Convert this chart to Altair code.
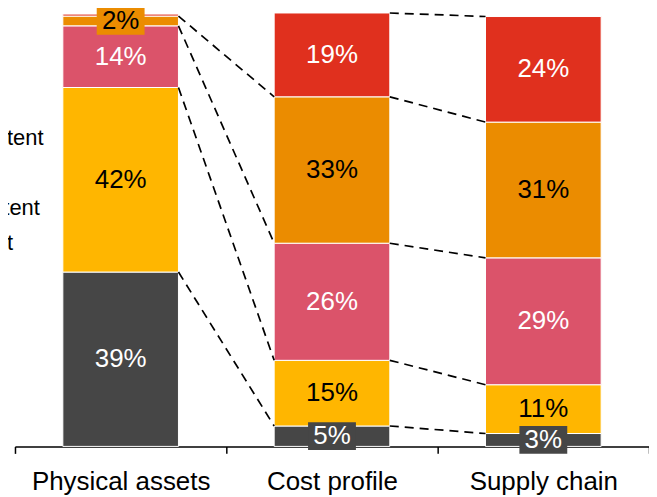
import altair as alt
import pandas as pd

groups = ["Physical assets", "Cost profile", "Supply chain"]
# legend / stack categories, listed top of stack to bottom
levels = ["Completely", "To a major extent", "Somewhat", "To a small extent", "Not significant"]
colors = ["#E0301E", "#EB8C00", "#DB536A", "#FFB600", "#464646"]
text_colors = ["white", "black", "white", "black", "white"]

# shares in %, listed bottom of stack to top (Not significant ... Completely)
physical = [39.3, 41.6, 13.9, 2.2, 0.45]
cost = [4.6, 14.8, 26.4, 33.0, 18.9]
supply = [2.9, 11.0, 28.6, 30.6, 23.8]

series = {"Physical assets": physical, "Cost profile": cost, "Supply chain": supply}
bottom_up = list(reversed(levels))
tc = dict(zip(levels, text_colors))

rows = []
tops = {}
for g in groups:
    acc = 0.0
    for lvl, v in zip(bottom_up, series[g]):
        rows.append({"group": g, "level": lvl, "value": v, "y0": acc, "y1": acc + v,
                     "mid": acc + v / 2, "label": f"{int(round(v))}%",
                     "tcolor": tc[lvl], "small": v < 6, "show": v >= 1})
        acc += v
        tops[(g, lvl)] = (acc, v)
df = pd.DataFrame(rows)

links = []
for a, b in zip(groups[:-1], groups[1:]):
    for lvl in levels:
        ya, va = tops[(a, lvl)]
        yb, vb = tops[(b, lvl)]
        if va >= 1:
            links.append({"from": a, "to": b, "ya": ya, "yb": yb})
ldf = pd.DataFrame(links)
legdf = pd.DataFrame({"level": levels})

FONT = "Liberation Sans"
xscale = alt.Scale(domain=groups, paddingInner=0, paddingOuter=0)
yscale = alt.Scale(domain=[0, 98.65])
cscale = alt.Scale(domain=levels, range=colors)

xaxis = alt.Axis(title=None, labelAngle=0, labelFontSize=26, labelFont=FONT, labelColor="black",
                 labelPadding=15, domainColor="black", domainWidth=1.5, tickColor="black",
                 tickWidth=1.5, tickSize=7, tickBand="extent", grid=False)

bars = alt.Chart(df).mark_bar(size=116, stroke="white", strokeWidth=1).encode(
    x=alt.X("group:N", scale=xscale, axis=xaxis, sort=groups),
    y=alt.Y("y0:Q", scale=yscale, axis=None),
    y2="y1:Q",
    color=alt.Color("level:N", scale=cscale, legend=None),
)

connectors = alt.Chart(ldf).mark_rule(color="black", strokeWidth=1.7, strokeDash=[9, 6],
                                      xOffset=58, x2Offset=-58).encode(
    x=alt.X("from:N", scale=xscale, sort=groups),
    x2="to:N",
    y=alt.Y("ya:Q", scale=yscale, axis=None),
    y2="yb:Q",
)

boxes = alt.Chart(df).transform_filter("datum.small && datum.show").mark_point(
    shape="M-1,-0.58L1,-0.58L1,0.58L-1,0.58Z", size=48 * 48, filled=True, opacity=1, strokeWidth=0
).encode(
    x=alt.X("group:N", scale=xscale, sort=groups),
    y=alt.Y("mid:Q", scale=yscale, axis=None),
    color=alt.Color("level:N", scale=cscale, legend=None),
)

labels = alt.Chart(df).transform_filter("datum.show").mark_text(
    font=FONT, fontSize=26, baseline="middle", align="center"
).encode(
    x=alt.X("group:N", scale=xscale, sort=groups),
    y=alt.Y("mid:Q", scale=yscale, axis=None),
    text="label:N",
    color=alt.Color("tcolor:N", scale=None),
)

legend_text = alt.Chart(legdf).mark_text(
    font=FONT, fontSize=22, baseline="middle", align="left", color="black"
).encode(
    x=alt.value(-140),
    y=alt.Y("level:O", scale=alt.Scale(type="point", domain=levels, range=[94, 235], padding=0), axis=None),
    text="level:N",
)

chart = alt.layer(bars, connectors, boxes, labels, legend_text).resolve_scale(
    y="independent"
).properties(
    width=636, height=439,
    autosize=alt.AutoSizeParams(type="none"),
    padding={"left": 7, "top": 0, "right": 0, "bottom": 50},
).configure_view(stroke=None)

chart.save("out.html", embed_options={"renderer": "svg", "actions": False})
